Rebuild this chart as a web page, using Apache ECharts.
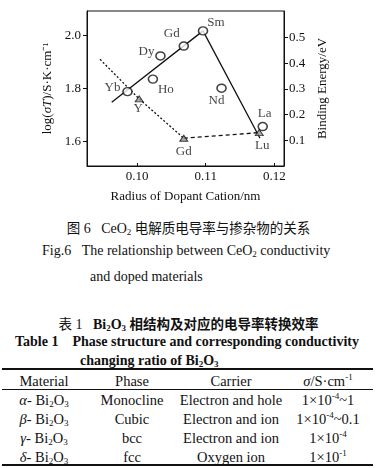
<!DOCTYPE html>
<html>
<head>
<meta charset="utf-8">
<script src="https://cdn.jsdelivr.net/npm/echarts@6/dist/echarts.min.js"></script>
<style>
  body { margin: 0; background: #fff; }
  #page { position: relative; width: 377px; height: 468px; overflow: hidden;
          font-family: "Liberation Serif", "Noto Sans CJK SC", serif; color: #111; font-size: 14px; }
  #mainGraph { position: absolute; left: 0; top: 0; width: 377px; height: 210px; }
  .ln { position: absolute; white-space: nowrap; line-height: 16px; }
  .cjk { font-family: "Noto Sans CJK SC", sans-serif; font-size: 13.5px; }
  .cell { position: absolute; width: 130px; text-align: center; white-space: nowrap; line-height: 16px; font-size: 14.5px; }
  .rule { position: absolute; left: 2px; width: 371px; background: #111; }
  sub, sup { font-size: 9px; line-height: 0; }
  sup { vertical-align: 6px; }
  sub { vertical-align: -2px; }
</style>
</head>
<body>
<div id="page">
  <div id="mainGraph"></div>
  <div class="ln" style="left:0;width:377px;text-align:center;top:219px;">
    <span class="cjk">图</span> 6&nbsp;&nbsp;&nbsp;CeO<sub>2</sub> <span class="cjk">电解质电导率与掺杂物的关系</span></div>
  <div class="ln" style="left:42px;top:243px;">Fig.6&nbsp;&nbsp;&nbsp;The relationship between CeO<sub>2</sub> conductivity</div>
  <div class="ln" style="left:90px;top:269px;">and doped materials</div>

  <div class="ln" style="left:0;width:377px;text-align:center;top:315px;">
    <span class="cjk">表</span> 1&nbsp;&nbsp;&nbsp;<b>Bi<sub>2</sub>O<sub>3</sub></b> <span class="cjk" style="font-weight:bold">相结构及对应的电导率转换效率</span></div>
  <div class="ln" style="left:15px;top:334px;font-weight:bold;">Table 1&nbsp;&nbsp;&nbsp;&nbsp;Phase structure and corresponding conductivity</div>
  <div class="ln" style="left:80px;top:353px;font-weight:bold;">changing ratio of Bi<sub>2</sub>O<sub>3</sub></div>
  <div id="table"></div>
</div>

<script>
// ---- figure data ----
// conductivity, circles, left axis
var circleNames = ['Yb', 'Ho', 'Dy', 'Gd', 'Sm', 'Nd', 'La'];
var circleRadius = [0.0986, 0.1023, 0.1034, 0.1068, 0.1096, 0.1123, 0.1183];
var circleLogSigmaT = [1.788, 1.835, 1.922, 1.959, 2.016, 1.801, 1.657];
// solid line (fit up to Sm, then down to Lu)
var solidRadius = [0.0963, 0.1096, 0.1179];
var solidLogSigmaT = [1.748, 2.016, 1.613];

// binding energy, triangles, right axis
var triNames = ['Y', 'Gd', 'Lu'];
var triRadius = [0.1003, 0.1068, 0.1178];
var triEnergy = [0.261, 0.108, 0.130];
// dotted line start then through Y to Gd; dashed Gd -> Lu
var dottedRadius = [0.0946, 0.1003, 0.1068];
var dottedEnergy = [0.415, 0.261, 0.108];
var dashedRadius = [0.1068, 0.1178];
var dashedEnergy = [0.108, 0.130];

var xTicks = [0.10, 0.11, 0.12];
var leftTicks = [1.6, 1.8, 2.0];
var rightTicks = [0.1, 0.2, 0.3, 0.4, 0.5];

// label offsets (px) for the point names
var circleLabelOffsets = [[-15, -4], [13, 10], [-14, -4], [-12, -12], [13, -8], [-5, 12], [2, -13]];
var triLabelOffsets = [[-1, 10], [0, 13], [3, 13]];

// ---- table data ----
var tableHeader = ['Material', 'Phase', 'Carrier', '<i>σ</i>/S·cm<sup>-1</sup>'];
var phaseGreek = ['α', 'β', 'γ', 'δ'];
var phaseNames = ['Monocline', 'Cubic', 'bcc', 'fcc'];
var carriers = ['Electron and hole', 'Electron and ion', 'Electron and ion', 'Oxygen ion'];
var conductivity = ['1×10<sup>-4</sup>~1', '1×10<sup>-4</sup>~0.1', '1×10<sup>-4</sup>', '1×10<sup>-1</sup>'];

var ink = '#111';
var serif = 'Liberation Serif';

function pairs(xs, ys) {
    var out = [];
    for (var i = 0; i < xs.length; i++) out.push([xs[i], ys[i]]);
    return out;
}
function labelled(names, xs, ys, offsets) {
    return names.map(function (n, i) {
        return { name: n, value: [xs[i], ys[i]], label: { offset: offsets[i] } };
    });
}

var myChart_main = echarts.init(document.getElementById('mainGraph'));
var labelStyle = { show: true, position: 'inside', formatter: '{b}', fontFamily: serif, fontSize: 13, color: ink };

var option = {
    animation: false,
    grid: { left: 87, top: 11, width: 197, height: 155, show: true, borderColor: ink, borderWidth: 1 },
    xAxis: {
        type: 'value', min: 0.0927, max: 0.1214,
        name: 'Radius of Dopant Cation/nm', nameLocation: 'middle', nameGap: 24,
        nameTextStyle: { fontFamily: serif, fontSize: 13, color: ink },
        axisLine: { show: true, lineStyle: { color: ink } },
        axisTick: { show: true, inside: true, length: 3, customValues: xTicks, lineStyle: { color: ink } },
        axisLabel: { customValues: xTicks, margin: 4, fontFamily: serif, fontSize: 13, color: ink,
            formatter: function (v) { return v.toFixed(2); } },
        splitLine: { show: false }
    },
    yAxis: [{
        type: 'value', min: 1.509, max: 2.0906, position: 'left',
        name: 'log({i|σT})/S·K·cm⁻¹', nameLocation: 'middle', nameGap: 29, nameRotate: 90,
        nameTextStyle: { fontFamily: serif, fontSize: 13, color: ink,
            rich: { i: { fontFamily: serif, fontSize: 13, fontStyle: 'italic', color: ink } } },
        axisLine: { show: true, lineStyle: { color: ink } },
        axisTick: { show: true, length: 4, customValues: leftTicks, lineStyle: { color: ink } },
        axisLabel: { customValues: leftTicks, margin: 6, fontFamily: serif, fontSize: 13, color: ink,
            formatter: function (v) { return v.toFixed(1); } },
        splitLine: { show: false }
    }, {
        type: 'value', min: 0, max: 0.603, position: 'right',
        name: 'Binding Energy/eV', nameLocation: 'middle', nameGap: 28, nameRotate: 90,
        nameTextStyle: { fontFamily: serif, fontSize: 13, color: ink },
        axisLine: { show: true, lineStyle: { color: ink } },
        axisTick: { show: true, length: 4, customValues: rightTicks, lineStyle: { color: ink } },
        axisLabel: { customValues: rightTicks, margin: 5, fontFamily: serif, fontSize: 13, color: ink,
            formatter: function (v) { return v.toFixed(1); } },
        splitLine: { show: false }
    }],
    series: [
        {   // solid line
            type: 'line', yAxisIndex: 0, data: pairs(solidRadius, solidLogSigmaT),
            showSymbol: false, lineStyle: { color: ink, width: 1.3 }
        },
        {   // dotted part
            type: 'line', yAxisIndex: 1, data: pairs(dottedRadius, dottedEnergy),
            showSymbol: false, lineStyle: { color: ink, width: 1.3, type: [2, 2] }
        },
        {   // dashed part
            type: 'line', yAxisIndex: 1, data: pairs(dashedRadius, dashedEnergy),
            showSymbol: false, lineStyle: { color: ink, width: 1.3, type: [4, 3] }
        },
        {   // circles
            type: 'scatter', yAxisIndex: 0, symbol: 'circle', symbolSize: [9, 8],
            data: labelled(circleNames, circleRadius, circleLogSigmaT, circleLabelOffsets),
            itemStyle: { color: '#fff', borderColor: ink, borderWidth: 1.5 },
            label: labelStyle, z: 3
        },
        {   // triangles
            type: 'scatter', yAxisIndex: 1, symbol: 'triangle', symbolSize: [8, 6],
            data: labelled(triNames, triRadius, triEnergy, triLabelOffsets),
            itemStyle: { color: '#999', borderColor: ink, borderWidth: 1 },
            label: labelStyle, z: 3
        }
    ]
};
myChart_main.setOption(option);

// ---- table (plain html under the figure) ----
var colCenters = [44, 132, 231, 328];
var rowTops = [392, 411, 430, 449];
var html = '';
html += '<div class="rule" style="top:368px;height:2px;"></div>';
html += '<div class="rule" style="top:389px;height:1px;"></div>';
html += '<div class="rule" style="top:464px;height:2px;"></div>';
for (var c = 0; c < tableHeader.length; c++) {
    html += '<div class="cell" style="left:' + (colCenters[c] - 65) + 'px;top:373px;">' + tableHeader[c] + '</div>';
}
for (var r = 0; r < phaseGreek.length; r++) {
    var row = ['<i>' + phaseGreek[r] + '</i>- Bi<sub>2</sub>O<sub>3</sub>', phaseNames[r], carriers[r], conductivity[r]];
    for (var k = 0; k < row.length; k++) {
        html += '<div class="cell" style="left:' + (colCenters[k] - 65) + 'px;top:' + rowTops[r] + 'px;">' + row[k] + '</div>';
    }
}
document.getElementById('table').innerHTML = html;
</script>
</body>
</html>
